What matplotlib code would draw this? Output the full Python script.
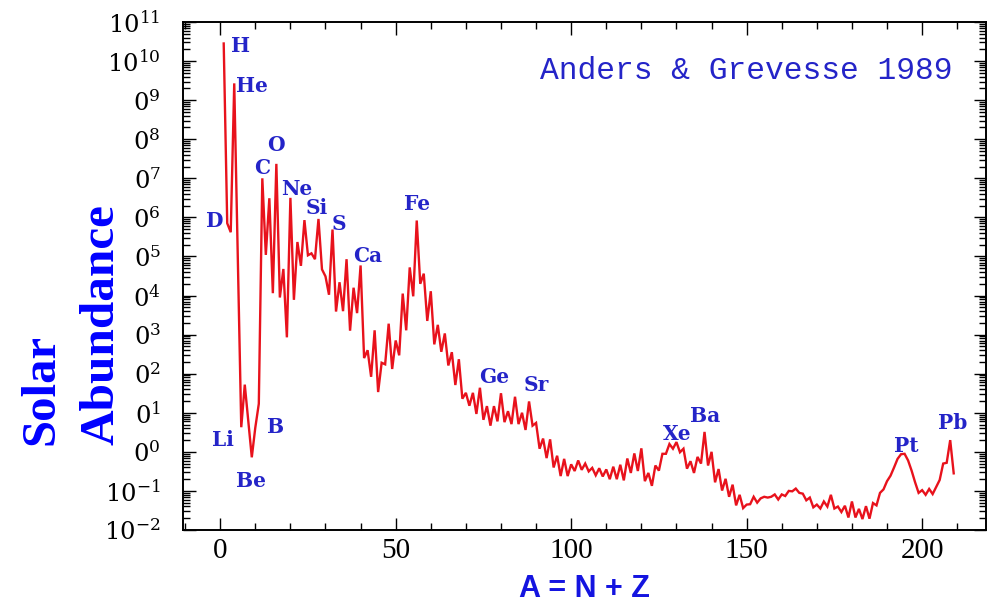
import numpy as np
import matplotlib
matplotlib.use("Agg")
import matplotlib.pyplot as plt
from matplotlib.ticker import FixedLocator, FixedFormatter, LogLocator, MultipleLocator, NullFormatter

# ---------------- data: solar abundance vs mass number (log10, Si = 1e6) -------------
mass_light = [1, 2, 3, 4, 6, 7, 9, 10, 11, 12, 13, 14, 15, 16, 17, 18, 19, 20,
              21, 22, 23, 24, 25, 26, 27, 28, 29, 30]
logab_light = [10.45, 5.85, 5.62, 9.43, 0.63, 1.72, -0.14, 0.62, 1.23, 7.00,
               5.04, 6.49, 4.06, 7.37, 3.95, 4.68, 2.93, 6.50, 3.89, 5.37,
               4.76, 5.93, 5.03, 5.08, 4.93, 5.96, 4.67, 4.49]

mass_mid = list(range(31, 63))
logab_mid = [4.02, 5.69, 3.59, 4.34, 3.60, 4.93, 3.10, 4.20, 3.55, 4.77,
             2.40, 2.60, 1.92, 3.11, 1.53, 2.28, 2.24, 3.28, 2.12, 2.85,
             2.47, 4.05, 3.11, 4.72, 3.98, 5.92, 4.30, 4.56, 3.35, 4.11,
             2.75, 3.25]

mass_trans = list(range(63, 101))
logab_trans = [2.56, 3.03, 2.21, 2.55, 1.71, 2.37, 1.36, 1.51, 1.18, 1.51,
               0.97, 1.64, 0.82, 1.17, 0.67, 1.17, 0.78, 1.50, 0.76, 1.04,
               0.71, 1.41, 0.71, 1.00, 0.56, 1.29, 0.67, 0.74, 0.08, 0.34,
               -0.16, 0.32, -0.40, -0.10, -0.62, -0.18, -0.62, -0.32]

mass_heavy = list(range(101, 151))
logab_heavy = [-0.49, -0.22, -0.46, -0.30, -0.50, -0.41, -0.60, -0.42, -0.63, -0.45,
               -0.70, -0.38, -0.70, -0.33, -0.73, -0.17, -0.54, -0.04, -0.49, 0.09,
               -0.75, -0.54, -0.87, -0.35, -0.48, -0.05, -0.05, 0.20, 0.08, 0.25,
               -0.01, 0.08, -0.43, -0.24, -0.54, -0.13, -0.30, 0.51, -0.35, 0.00,
               -0.78, -0.44, -0.99, -0.69, -1.15, -0.84, -1.37, -1.10, -1.44, -1.35]

mass_vheavy = list(range(151, 210))
logab_vheavy = [-1.34, -1.15, -1.30, -1.19, -1.15, -1.17, -1.15, -1.09, -1.22, -1.09,
                -1.13, -1.00, -1.01, -0.94, -1.05, -1.07, -1.24, -1.17, -1.42, -1.35,
                -1.45, -1.27, -1.40, -1.10, -1.45, -1.40, -1.54, -1.38, -1.68, -1.27,
                -1.68, -1.46, -1.72, -1.39, -1.71, -1.31, -1.37, -1.05, -0.96, -0.75,
                -0.61, -0.40, -0.18, -0.06, -0.05, -0.22, -0.48, -0.78, -1.05, -0.98,
                -1.10, -0.95, -1.08, -0.90, -0.72, -0.30, -0.28, 0.30, -0.55]

element_names = ["H", "He", "D", "C", "O", "Ne", "Si", "S", "Ca", "Fe",
                 "Li", "Be", "B", "Ge", "Sr", "Xe", "Ba", "Pt", "Pb"]
# label anchor positions (mass number, log10 abundance)
label_mass = [5.8, 8.9, -1.5, 11.9, 15.9, 21.7, 27.6, 33.7, 41.9, 56.0,
              0.7, 8.8, 15.9, 78.0, 90.1, 130.1, 138.1, 195.6, 208.6]
label_log = [10.38, 9.35, 5.90, 7.26, 7.85, 6.73, 6.23, 5.82, 5.00, 6.33,
             0.30, -0.75, 0.64, 1.91, 1.70, 0.46, 0.92, 0.14, 0.74]

ytick_exps = list(range(-2, 12))
ytick_texts = [r"$\mathregular{10^{-2}}$", r"$\mathregular{10^{-1}}$",
               r"$\mathregular{0^{0}}$", r"$\mathregular{0^{1}}$", r"$\mathregular{0^{2}}$",
               r"$\mathregular{0^{3}}$", r"$\mathregular{0^{4}}$", r"$\mathregular{0^{5}}$",
               r"$\mathregular{0^{6}}$", r"$\mathregular{0^{7}}$", r"$\mathregular{0^{8}}$",
               r"$\mathregular{0^{9}}$", r"$\mathregular{10^{10}}$", r"$\mathregular{10^{11}}$"]

# ---------------- figure --------------------------------------------------------------
mass = np.array(mass_light + mass_mid + mass_trans + mass_heavy + mass_vheavy)
logab = np.array(logab_light + logab_mid + logab_trans + logab_heavy + logab_vheavy)

W, H = 988, 605
fig = plt.figure(figsize=(W / 100, H / 100), dpi=100)
ax = fig.add_axes([183 / W, 1 - 530 / H, (986 - 183) / W, (530 - 22) / H])

ax.plot(mass, 10.0 ** logab, color="#e8121c", lw=1.7, solid_joinstyle="miter")

ax.set_yscale("log")
ax.set_ylim(1e-2, 1e11)
ax.set_xlim(-10.6, 218.2)

ax.yaxis.set_major_locator(FixedLocator([10.0 ** e for e in ytick_exps]))
ax.yaxis.set_major_formatter(FixedFormatter(ytick_texts))
ax.yaxis.set_minor_locator(LogLocator(base=10, subs=np.arange(2, 10), numticks=100))
ax.yaxis.set_minor_formatter(NullFormatter())
ax.xaxis.set_major_locator(MultipleLocator(50))
ax.xaxis.set_minor_locator(MultipleLocator(10))

ax.tick_params(which="both", direction="in", top=True, right=True, width=1.0, color="black")
ax.tick_params(which="major", length=9)
ax.tick_params(which="minor", length=5)
ax.tick_params(axis="x", which="major", labelsize=21, pad=6)
ax.tick_params(axis="y", which="major", labelsize=17.5, pad=16)
for lab in ax.get_xticklabels():
    lab.set_fontfamily("Liberation Serif")
for lab in ax.get_yticklabels():
    lab.set_fontfamily("DejaVu Serif")
for sp in ax.spines.values():
    sp.set_linewidth(1.4)

blue = "#2424c8"
for name, xm, yl in zip(element_names, label_mass, label_log):
    ax.text(xm, 10.0 ** yl, name, color=blue, fontsize=14.5, fontweight="bold",
            family="DejaVu Serif", ha="center", va="center")

ax.text(0.958, 0.903, "Anders & Grevesse 1989", transform=ax.transAxes,
        color=blue, fontsize=22.5, family="Liberation Mono", ha="right", va="center")

ax.set_xlabel("A = N + Z", color="#1414e0", fontsize=22, fontweight="bold",
              family="Liberation Sans", labelpad=7)

fig.text(53 / W, 1 - 445 / H, "Solar", rotation=90, rotation_mode="anchor",
         ha="left", va="baseline", color="#0000ff", fontsize=35, fontweight="bold",
         family="Liberation Serif")
fig.text(113 / W, 1 - 445 / H, "Abundance", rotation=90, rotation_mode="anchor",
         ha="left", va="baseline", color="#0000ff", fontsize=35.5, fontweight="bold",
         family="Liberation Serif")

fig.savefig("out.png", dpi=100)
